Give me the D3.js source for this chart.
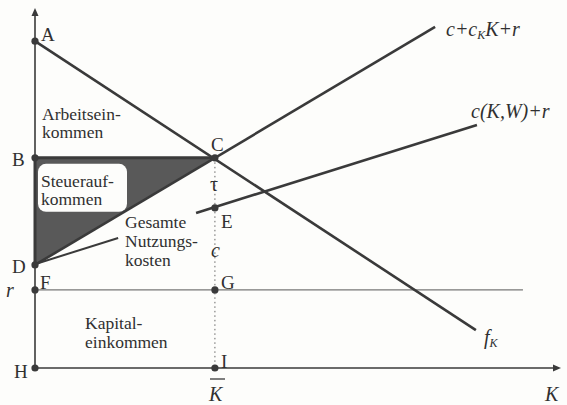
<!DOCTYPE html>
<html>
<head>
<meta charset="utf-8">
<script src="https://cdn.jsdelivr.net/npm/d3@7"></script>
<style>
  body { margin: 0; background: #fdfdfb; }
  svg { display: block; }
  text { font-family: "Liberation Serif", "Times New Roman", serif; fill: #303030; }
</style>
</head>
<body>
<div id="chart"></div>
<script>
// values in diagram units (K on x, price on y)
const KBAR = 3.44;
const Y_A = 9.13, Y_B = 5.87, Y_D = 2.88, Y_R = 2.18, Y_E = 4.47;

const demandLine = [[0, Y_A], [8.43, 1.06]];          // f_K
const costLine = [[0, Y_D], [7.65, 9.53]];            // c + c_K K + r
const useCostLine = [[3.08, 4.33], [8.45, 6.79]];     // c(K,W) + r
const rLine = [[0, Y_R], [9.33, Y_R]];
const leaderLine = [[0.04, 2.92], [1.59, 3.63]];
const taxArea = [[0, Y_B], [KBAR, Y_B], [0, Y_D]];

const points = [
  { name: "A", k: 0, y: Y_A },
  { name: "B", k: 0, y: Y_B },
  { name: "C", k: KBAR, y: Y_B },
  { name: "D", k: 0, y: Y_D },
  { name: "E", k: KBAR, y: Y_E },
  { name: "F", k: 0, y: Y_R },
  { name: "G", k: KBAR, y: Y_R },
  { name: "H", k: 0, y: 0 },
  { name: "I", k: KBAR, y: 0 }
];

const W = 567, H = 405;
const svg = d3.select("#chart").append("svg").attr("width", W).attr("height", H);

const x = d3.scaleLinear().domain([0, 10]).range([35, 558]);
const y = d3.scaleLinear().domain([0, 10]).range([368, 10]);
const line = d3.line().x(d => x(d[0])).y(d => y(d[1]));

const INK = "#3a3a3a";

// shaded tax revenue triangle
svg.append("path")
  .attr("d", line(taxArea) + "Z")
  .attr("fill", "#595959");

// white label box inside the triangle
svg.append("rect")
  .attr("x", x(0) + 3).attr("y", y(Y_B) + 6)
  .attr("width", 89).attr("height", 48)
  .attr("rx", 8)
  .attr("fill", "#fdfdfb");

// axes
svg.append("line")
  .attr("x1", x(0)).attr("x2", x(0))
  .attr("y1", y(0)).attr("y2", 14)
  .attr("stroke", INK).attr("stroke-width", 1.6);
svg.append("path")
  .attr("d", "M" + x(0) + ",8 l-3.5,8 h7 Z").attr("fill", INK);
svg.append("line")
  .attr("x1", x(0)).attr("x2", 553)
  .attr("y1", y(0)).attr("y2", y(0))
  .attr("stroke", INK).attr("stroke-width", 1.6);
svg.append("path")
  .attr("d", "M561," + y(0) + " l-8,-3.5 v7 Z").attr("fill", INK);

// thick edges B-C and B-D
svg.append("path")
  .attr("d", line([[0, Y_D], [0, Y_B], [KBAR, Y_B]]))
  .attr("fill", "none").attr("stroke", INK).attr("stroke-width", 3);

// r line
svg.append("path").attr("d", line(rLine))
  .attr("fill", "none").attr("stroke", "#777").attr("stroke-width", 1.2);

// dotted K-bar line
svg.append("line")
  .attr("x1", x(KBAR)).attr("x2", x(KBAR))
  .attr("y1", y(Y_B)).attr("y2", y(0))
  .attr("stroke", "#666").attr("stroke-width", 1)
  .attr("stroke-dasharray", "1.5,3");

// main curves
[demandLine, costLine, useCostLine].forEach(d => {
  svg.append("path").attr("d", line(d))
    .attr("fill", "none").attr("stroke", INK).attr("stroke-width", 2.6);
});
svg.append("path").attr("d", line(leaderLine))
  .attr("fill", "none").attr("stroke", INK).attr("stroke-width", 2);

// points
svg.selectAll("circle.pt").data(points).enter().append("circle")
  .attr("class", "pt")
  .attr("cx", d => x(d.k)).attr("cy", d => y(d.y))
  .attr("r", 3.6).attr("fill", INK);

// point labels
const labels = [
  ["A", 41, 41], ["B", 12, 166], ["C", 211, 151], ["D", 12, 273],
  ["E", 221, 228], ["F", 40, 289], ["G", 221, 289], ["H", 14, 378], ["I", 221, 368]
];
svg.selectAll("text.lbl").data(labels).enter().append("text")
  .attr("class", "lbl")
  .attr("x", d => d[1]).attr("y", d => d[2])
  .attr("font-size", 19)
  .text(d => d[0]);

function block(lines, x0, y0, dy) {
  lines.forEach((t, i) => {
    svg.append("text").attr("x", x0).attr("y", y0 + i * dy)
      .attr("font-size", 17.5).text(t);
  });
}
block(["Arbeitsein-", "kommen"], 42, 120, 18);
block(["Steuerauf-", "kommen"], 41, 187, 18);
block(["Gesamte", "Nutzungs-", "kosten"], 125, 228, 19);
block(["Kapital-", "einkommen"], 85, 329, 19);

// italic symbols
function ital(t, x0, y0, size) {
  return svg.append("text").attr("x", x0).attr("y", y0)
    .attr("font-size", size || 20).attr("font-style", "italic").text(t);
}
ital("r", 6, 297);
ital("c", 211, 257);
svg.append("text").attr("x", 210).attr("y", 191).attr("font-size", 20).text("τ");
ital("K", 209, 401);
svg.append("line").attr("x1", 210).attr("x2", 225).attr("y1", 379).attr("y2", 379)
  .attr("stroke", INK).attr("stroke-width", 1.3);
ital("K", 545, 401);

const fk = ital("f", 484, 344);
fk.append("tspan").attr("font-size", 12).attr("dy", 3).text("K");

const cl = ital("c+c", 446, 36);
cl.append("tspan").attr("font-size", 12).attr("dy", 3).text("K");
cl.append("tspan").attr("dy", -3).text("K+r");

ital("c(K,W)+r", 471, 118);
</script>
</body>
</html>
